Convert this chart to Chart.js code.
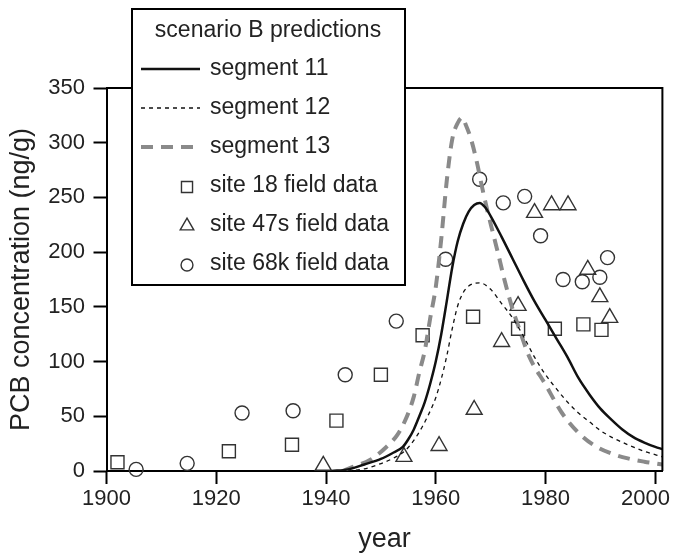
<!DOCTYPE html>
<html>
<head>
<meta charset="utf-8">
<script src="https://cdn.jsdelivr.net/npm/chart.js@4.4.1/dist/chart.umd.min.js"></script>
<style>
  body { margin: 0; background: #fff; }
</style>
</head>
<body>
<canvas id="pcbChart" width="673" height="556"></canvas>
<script>
const FONT = '"Liberation Sans", Arial, sans-serif';
const INK = "#222";

// axis ticks
const xTicks = [1900, 1920, 1940, 1960, 1980, 2000];
const yTicks = [0, 50, 100, 150, 200, 250, 300, 350];

// scenario B model predictions
const seg11Years = [1941, 1944, 1947, 1950, 1952, 1954, 1955, 1956, 1957, 1958, 1959, 1960, 1961, 1962, 1963, 1964, 1965, 1966, 1967, 1968, 1969, 1970, 1972, 1974, 1976, 1978, 1980, 1982, 1984, 1986, 1988, 1990, 1992, 1994, 1996, 1998, 2000, 2001.3];
const seg11Values = [0, 1.5, 6, 11, 16, 22, 29, 38, 50, 63, 80, 100, 125, 155, 186, 210, 226, 237, 243, 245, 241, 233, 214, 194, 174, 155, 138, 121, 104, 85, 70, 57, 47, 38, 31, 26, 22, 20];

const seg12Years = [1944, 1947, 1949, 1952, 1954.5, 1956, 1957.5, 1959, 1960, 1961, 1962, 1963, 1964, 1965, 1966, 1968, 1970, 1972, 1974, 1976, 1978, 1980, 1982, 1984, 1986, 1988, 1990, 1992, 1995, 1998, 2001.3];
const seg12Values = [0, 2, 5, 11, 19, 28, 40, 55, 67, 84, 105, 130, 151, 163, 169, 172, 166, 153, 140, 123, 104, 88, 75, 63, 53, 45, 37, 31, 24, 18, 13];

const seg13Years = [1943, 1945, 1948, 1951, 1953, 1954.5, 1956, 1957, 1958, 1959, 1960, 1961, 1962, 1963, 1964, 1964.8, 1965.5, 1966.5, 1967.5, 1968.5, 1969.5, 1970.5, 1971.5, 1972.5, 1974, 1975, 1977, 1980, 1983, 1986, 1989, 1992, 1995, 1998, 2001.3];
const seg13Values = [0, 4, 10, 22, 33, 47, 68, 90, 110, 140, 168, 212, 265, 303, 318, 323, 316, 302, 282, 258, 236, 216, 196, 175, 148, 133, 105, 79, 53, 35, 23, 16, 11.5, 8.5, 6];

// field data
const site18Years = [1902, 1922.3, 1933.8, 1941.9, 1950, 1957.6, 1966.8, 1975, 1981.7, 1986.9, 1990.2];
const site18Values = [8, 18, 24, 46, 88, 124, 141, 130, 130, 134, 129];

const site47sYears = [1939.5, 1954.2, 1960.6, 1967, 1972, 1975, 1978, 1981.1, 1984.1, 1987.7, 1989.9, 1991.7];
const site47sValues = [5, 13, 23, 56, 118, 151, 236, 243, 243, 184, 159, 140];

const site68kYears = [1905.4, 1914.7, 1924.7, 1934, 1943.5, 1952.8, 1961.8, 1968, 1972.3, 1976.2, 1979.1, 1983.2, 1986.7, 1989.9, 1991.3];
const site68kValues = [1.5, 7, 53, 55, 88, 137, 193.5, 266.6, 245, 251, 215, 175, 173, 177, 195];

const toPoints = (xs, ys) => xs.map((x, i) => ({ x: x, y: ys[i] }));

const curve = (label, xs, ys, color, width, dash) => ({
  label: label,
  data: toPoints(xs, ys),
  showLine: true,
  borderColor: color,
  borderWidth: width,
  borderDash: dash,
  pointRadius: 0,
  cubicInterpolationMode: "monotone",
  fill: false,
});

const markers = (label, xs, ys, style, r) => ({
  label: label,
  data: toPoints(xs, ys),
  pointStyle: style,
  pointRadius: r,
  pointHoverRadius: r,
  borderColor: "#333",
  borderWidth: 1.4,
  backgroundColor: "rgba(0,0,0,0)",
  clip: false,
});

// top/right frame, x tick labels and the boxed legend
const framePlugin = {
  id: "frame",
  afterDatasetsDraw(chart) {
    const { ctx, chartArea: a } = chart;
    ctx.save();
    ctx.strokeStyle = "#000";
    ctx.lineWidth = 2;
    ctx.beginPath();
    ctx.moveTo(a.left, a.top);
    ctx.lineTo(a.right, a.top);
    ctx.lineTo(a.right, a.bottom);
    ctx.stroke();

    const xs = chart.scales.x;
    ctx.font = "22px " + FONT;
    ctx.fillStyle = INK;
    ctx.textAlign = "center";
    ctx.textBaseline = "middle";
    xs.ticks.forEach((t) => {
      const label = String(t.value);
      const w = ctx.measureText(label).width;
      const px = Math.min(xs.getPixelForValue(t.value), chart.width - w / 2 - 3);
      ctx.fillText(label, px, a.bottom + 28);
    });
    ctx.restore();
  },
  afterDraw(chart) {
    const ctx = chart.ctx;
    ctx.save();
    ctx.fillStyle = "#fff";
    ctx.fillRect(132, 9, 273, 276);
    ctx.strokeStyle = "#000";
    ctx.lineWidth = 2;
    ctx.strokeRect(132, 9, 273, 276);

    ctx.font = "23px " + FONT;
    ctx.fillStyle = INK;
    ctx.textBaseline = "middle";
    ctx.textAlign = "center";
    ctx.fillText("scenario B predictions", 268, 31);

    ctx.textAlign = "left";
    chart.data.datasets.forEach((ds, i) => {
      const y = 69 + i * 39;
      ctx.strokeStyle = ds.borderColor;
      ctx.lineWidth = ds.borderWidth;
      if (ds.showLine) {
        ctx.setLineDash(ds.borderDash || []);
        ctx.beginPath();
        ctx.moveTo(141, y);
        ctx.lineTo(200, y);
        ctx.stroke();
        ctx.setLineDash([]);
      } else {
        ctx.fillStyle = "rgba(0,0,0,0)";
        Chart.helpers.drawPoint(ctx, {
          pointStyle: ds.pointStyle,
          radius: ds.pointRadius * 0.85,
          borderWidth: ds.borderWidth,
          rotation: 0,
        }, 187, y + 1);
      }
      ctx.fillStyle = INK;
      ctx.fillText(ds.label, 210, y);
    });
    ctx.restore();
  },
};

new Chart(document.getElementById("pcbChart"), {
  type: "scatter",
  data: {
    datasets: [
      curve("segment 11", seg11Years, seg11Values, "#111", 2.5, []),
      curve("segment 12", seg12Years, seg12Values, "#111", 1.3, [4, 4]),
      curve("segment 13", seg13Years, seg13Values, "#8a8a8a", 4, [12, 8]),
      markers("site 18 field data", site18Years, site18Values, "rect", 9.2),
      markers("site 47s field data", site47sYears, site47sValues, "triangle", 9.2),
      markers("site 68k field data", site68kYears, site68kValues, "circle", 7),
    ],
  },
  options: {
    responsive: false,
    animation: false,
    layout: { padding: { top: 88, right: 3, left: 0, bottom: 0 } },
    plugins: {
      legend: { display: false },
      tooltip: { enabled: false },
    },
    scales: {
      x: {
        type: "linear",
        min: 1900,
        max: 2001.3,
        afterBuildTicks: (scale) => { scale.ticks = xTicks.map((v) => ({ value: v })); },
        afterFit: (scale) => { scale.height = 85; },
        ticks: { display: false },
        grid: { drawOnChartArea: false, tickLength: 13, tickWidth: 2, tickColor: "#000" },
        border: { color: "#000", width: 2 },
        title: {
          display: true,
          text: "year",
          color: INK,
          font: { family: FONT, size: 27 },
          padding: { top: 0, bottom: 0 },
        },
      },
      y: {
        min: 0,
        max: 350,
        afterBuildTicks: (scale) => { scale.ticks = yTicks.map((v) => ({ value: v })); },
        afterFit: (scale) => { scale.width = 106.5; },
        ticks: { color: INK, padding: 8.5, font: { family: FONT, size: 22 } },
        grid: { drawOnChartArea: false, tickLength: 13, tickWidth: 2, tickColor: "#000" },
        border: { color: "#000", width: 2 },
        title: {
          display: true,
          text: "PCB concentration (ng/g)",
          color: INK,
          font: { family: FONT, size: 27 },
          padding: { top: 5, bottom: 5 },
        },
      },
    },
  },
  plugins: [framePlugin],
});
</script>
</body>
</html>
